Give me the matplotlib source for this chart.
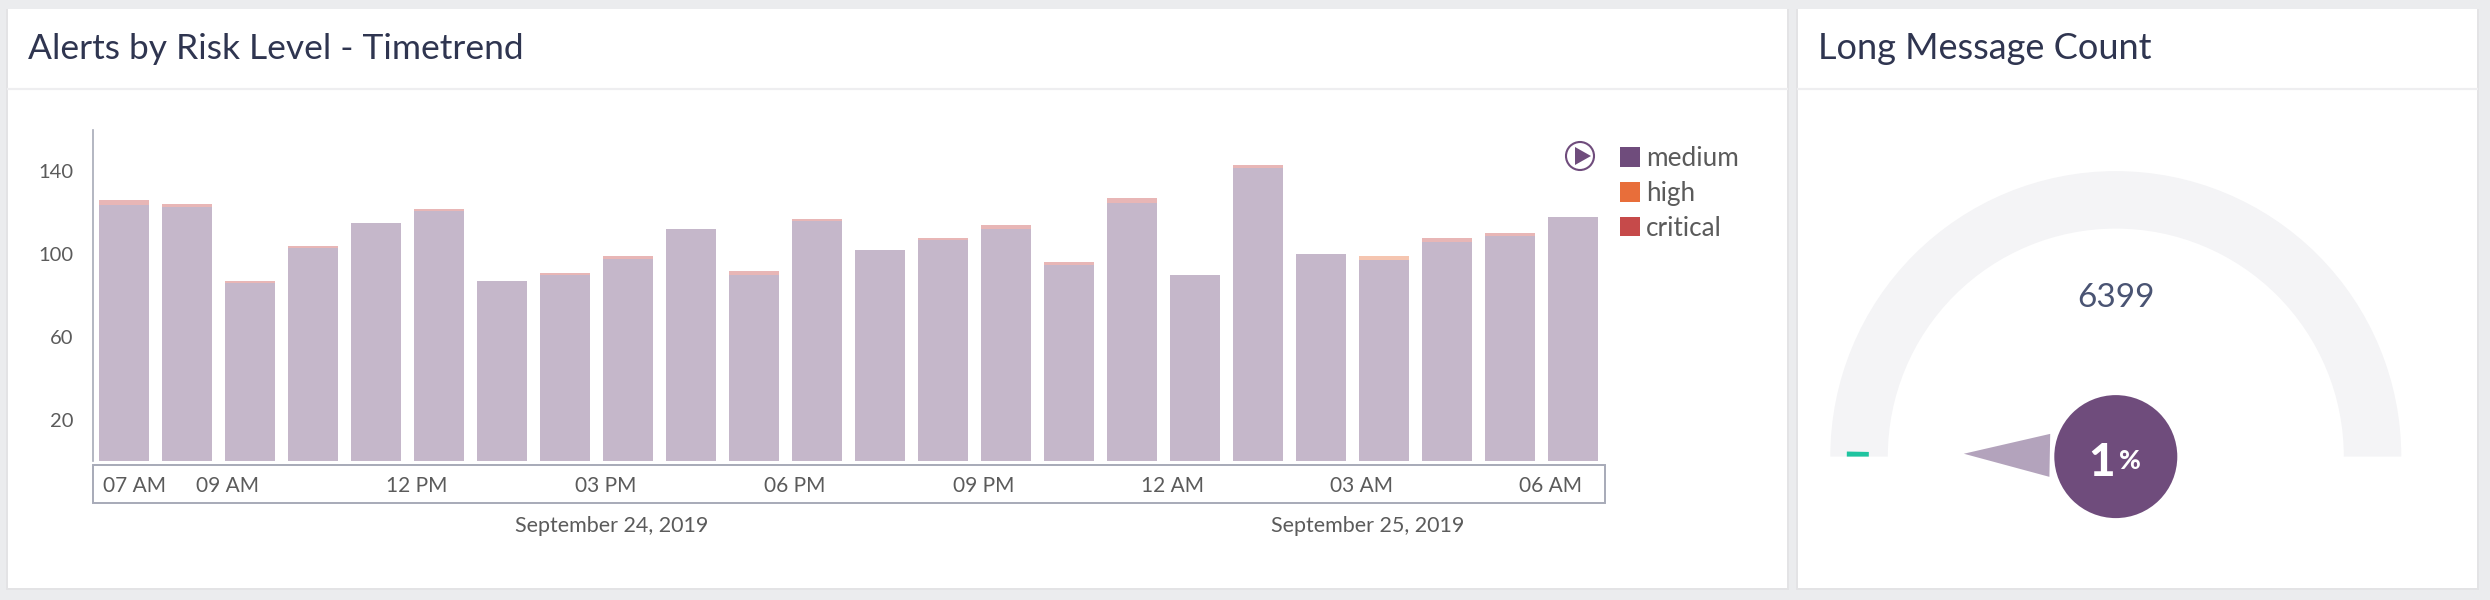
import matplotlib
matplotlib.use('Agg')
import matplotlib.pyplot as plt
from matplotlib.patches import Rectangle, Wedge, Circle, Polygon, Patch
import numpy as np

plt.rcParams['font.family'] = ['Lato', 'DejaVu Sans']

medium = [123.8, 122.9, 86, 103, 115, 120.9, 87, 89.8, 97.6, 112, 89.8, 116,
          102, 107, 112, 94.8, 124.8, 90, 141.8, 100, 97, 106, 108.7, 118]
high = [0, 0, 0, 0, 0, 0, 0, 0, 0, 0, 0, 0,
        0, 0, 0, 0, 0, 0, 0, 0, 2, 0, 0, 0]
critical = [2.2, 1.3, 1, 0.9, 0, 1.1, 0, 1.2, 1.4, 0, 2.1, 1,
            0, 1, 2, 1.2, 2.2, 0, 1.2, 0, 0, 2, 1.3, 0]
hour_ticks = [2, 5, 8, 11, 14, 17, 20, 23]
hour_labels = ['09 AM', '12 PM', '03 PM', '06 PM', '09 PM', '12 AM', '03 AM', '06 AM']
first_label = '07 AM'
y_ticks = [20, 60, 100, 140]
series_names = ['medium', 'high', 'critical']
gauge_total = 6399
gauge_pct = 1
gauge_fill = 0.6  # drawn width of the green sliver, percent of the arc

PURPLE = '#6f4c7c'
ORANGE = '#e86e3a'
RED = '#c64a4a'
GREY_TEXT = '#5b5b5b'
TITLE = '#2f3550'
LINE = '#a7aab8'

W, H = 2490, 600
fig = plt.figure(figsize=(W / 100, H / 100), dpi=100, facecolor='#ebecee')


def px_axes(left, top, right, bottom):
    return fig.add_axes([left / W, 1 - bottom / H, (right - left) / W, (bottom - top) / H])


# page furniture, drawn in pixel coords
bg = fig.add_axes([0, 0, 1, 1])
bg.set_xlim(0, W)
bg.set_ylim(H, 0)
bg.axis('off')
for x0, x1 in [(8, 1787), (1798, 2477)]:
    bg.add_patch(Rectangle((x0 - 2, 9), x1 - x0 + 4, 581, fc='#e3e3e5', ec='none'))
    bg.add_patch(Rectangle((x0, 9), x1 - x0, 579, fc='white', ec='none'))
    bg.plot([x0, x1], [89, 89], color='#eeeef0', lw=1.6)
bg.text(28, 59, 'Alerts by Risk Level - Timetrend', fontsize=25.5, color=TITLE, va='baseline')
bg.text(1818, 59, 'Long Message Count', fontsize=26, color=TITLE, va='baseline')

# range box under the bars
bg.add_patch(Rectangle((92.6, 465), 1511.9, 38, fc='white', ec=LINE, lw=1.4))

# play button
bg.add_patch(Circle((1580, 156), 14, fc='white', ec=PURPLE, lw=1.5))
bg.add_patch(Polygon([(1575, 147), (1575, 165), (1591, 156)], fc=PURPLE, ec='none'))

# bars
ax = px_axes(92.6, 130, 1604.5, 461)
ax.patch.set_alpha(0)
x = np.arange(len(medium))
m = np.array(medium)
h = np.array(high)
c = np.array(critical)
ax.bar(x, m, width=0.8, color=PURPLE, alpha=0.4, lw=0)
ax.bar(x, h, width=0.8, bottom=m, color=ORANGE, alpha=0.4, lw=0)
ax.bar(x, c, width=0.8, bottom=m + h, color=RED, alpha=0.4, lw=0)
ax.set_xlim(-0.5, 23.5)
ax.set_ylim(0, 160)
ax.set_yticks(y_ticks)
ax.set_xticks([0.17] + [t - 0.355 for t in hour_ticks])
ax.set_xticklabels([first_label] + hour_labels)
ax.tick_params(axis='both', length=0, labelcolor=GREY_TEXT)
ax.tick_params(axis='x', labelsize=15, pad=11)
ax.tick_params(axis='y', labelsize=14.5, pad=14)
for s in ['top', 'right', 'bottom']:
    ax.spines[s].set_visible(False)
ax.spines['left'].set_color(LINE)
ax.spines['left'].set_linewidth(1.2)

bg.text(612, 526, 'September 24, 2019', fontsize=15.5, color=GREY_TEXT, ha='center', va='center')
bg.text(1368, 526, 'September 25, 2019', fontsize=15.5, color=GREY_TEXT, ha='center', va='center')

handles = [Patch(fc=col, ec='none') for col in [PURPLE, ORANGE, RED]]
ax.legend(handles, series_names, loc='upper left', bbox_to_anchor=(1620 / W, 1 - 146 / H),
          bbox_transform=fig.transFigure, frameon=False, fontsize=18.8, labelcolor=GREY_TEXT,
          handlelength=0.77, handleheight=0.77, handletextpad=0.22, labelspacing=0.38,
          borderaxespad=0, borderpad=0)

# gauge, y goes up here
g = px_axes(1798, 100, 2477, 588)
cx, cy = 2115.8, 600 - 456.6
g.set_xlim(1798, 2477)
g.set_ylim(600 - 588, 600 - 100)
g.axis('off')
g.add_patch(Wedge((cx, cy), 285.5, 0, 180, width=57.5, fc='#f4f4f6', ec='none'))
ang = gauge_fill / 100 * 180
g.add_patch(Wedge((cx, cy), 269, 180 - ang, 180, width=22, fc='#1fc4a0', ec='none'))

t = np.radians(180 - ang)
ux, uy = np.cos(t), np.sin(t)
tip = (cx + 152 * ux, cy + 152 * uy)
base = (cx + 66 * ux, cy + 66 * uy)
g.add_patch(Polygon([tip, (base[0] - 21.5 * uy, base[1] + 21.5 * ux),
                     (base[0] + 21.5 * uy, base[1] - 21.5 * ux)], fc='#b3a3bc', ec='none'))
g.add_patch(Circle((cx, cy), 61.5, fc=PURPLE, ec='none'))
g.text(cx, 600 - 298, str(gauge_total), fontsize=24, color='#4a5473', ha='center', va='center')
g.text(2102, 600 - 463, str(gauge_pct), fontsize=33, color='white', fontweight='black', ha='center', va='center')
g.text(2130, 600 - 461, '%', fontsize=19, color='white', fontweight='black', ha='center', va='center')

fig.savefig('out.png', dpi=100)
